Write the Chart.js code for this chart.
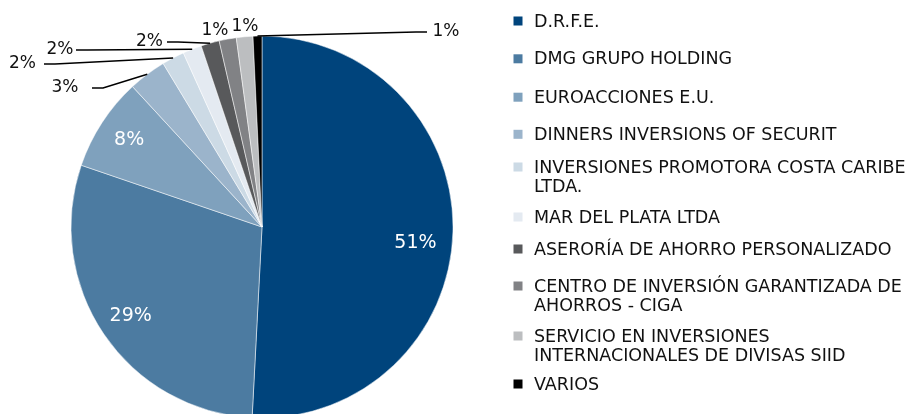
<!DOCTYPE html>
<html>
<head>
<meta charset="utf-8">
<script src="https://cdn.jsdelivr.net/npm/chart.js@4/dist/chart.umd.min.js"></script>
<style>
  html, body { margin: 0; padding: 0; background: #fff; overflow: hidden; }
  #wrap { width: 912px; height: 420px; }
</style>
</head>
<body>
<div id="wrap"><canvas id="chart-pie" width="912" height="420"></canvas></div>
<script>
// categories, values (% of total) and slice colours
var categories = [
  'D.R.F.E.',
  'DMG GRUPO HOLDING',
  'EUROACCIONES E.U.',
  'DINNERS INVERSIONS OF SECURIT',
  'INVERSIONES PROMOTORA COSTA CARIBE LTDA.',
  'MAR DEL PLATA LTDA',
  'ASERORÍA DE AHORRO PERSONALIZADO',
  'CENTRO DE INVERSIÓN GARANTIZADA DE AHORROS - CIGA',
  'SERVICIO EN INVERSIONES INTERNACIONALES DE DIVISAS SIID',
  'VARIOS'
];
var shares = [50.8, 29.4, 7.9, 3.2, 1.9, 1.6, 1.55, 1.45, 1.4, 0.75];
var colors = ['#00447C', '#4C7BA1', '#7FA1BD', '#9BB4CB', '#CCDAE5', '#E4EAF1', '#58595B', '#818285', '#BCBEC0', '#000000'];

var FONT = '"DejaVu Sans", Verdana, sans-serif';

// where the small slice labels sit (text centre, and the x where the leader line stops)
var outside = {
  3: {x: 65, y: 88, lineX: 92},
  4: {x: 22.5, y: 64, lineX: 44},
  5: {x: 60, y: 50, lineX: 76},
  6: {x: 149.5, y: 42, lineX: 167},
  7: {x: 215, y: 31},
  8: {x: 245, y: 27},
  9: {x: 446, y: 32, lineX: 427}
};
// best-fit nudge for the big label
var insideNudge = {0: {dx: -5, dy: 12}};
// legend rows (first line centre)
var legendX = 513.5, legendTextX = 534, legendLineH = 19.8, legendWrapW = 380;
var legendRowY = [21, 58.8, 97.2, 134.3, 167, 217, 249, 286, 336, 384];

function pct(i) {
  var total = shares.reduce(function(a, b) { return a + b; }, 0);
  return Math.round(shares[i] / total * 100) + '%';
}

function wrapText(ctx, text, maxW) {
  var words = text.split(' '), lines = [], cur = '';
  words.forEach(function(w) {
    var t = cur ? cur + ' ' + w : w;
    if (cur && ctx.measureText(t).width > maxW) { lines.push(cur); cur = w; }
    else cur = t;
  });
  if (cur) lines.push(cur);
  return lines;
}

var labelsPlugin = {
  id: 'pieLabels',
  afterDraw: function(chart) {
    var ctx = chart.ctx;
    var arcs = chart.getDatasetMeta(0).data;
    ctx.save();
    ctx.textBaseline = 'middle';
    ctx.textAlign = 'center';

    arcs.forEach(function(arc, i) {
      var mid = (arc.startAngle + arc.endAngle) / 2;
      var r = arc.outerRadius;
      var o = outside[i];
      if (!o) {
        var n = insideNudge[i] || {dx: 0, dy: 0};
        ctx.font = '19px ' + FONT;
        ctx.fillStyle = '#ffffff';
        ctx.fillText(pct(i), arc.x + Math.cos(mid) * r * 0.83 + n.dx, arc.y + Math.sin(mid) * r * 0.83 + n.dy);
        return;
      }
      if (o.lineX !== undefined) {
        var ax = arc.x + Math.cos(mid) * r, ay = arc.y + Math.sin(mid) * r;
        var ex = o.lineX + (o.lineX < ax ? 11 : -11);
        ctx.beginPath();
        ctx.moveTo(ax, ay);
        ctx.lineTo(ex, o.y);
        ctx.lineTo(o.lineX, o.y);
        ctx.strokeStyle = '#000';
        ctx.lineWidth = 1.5;
        ctx.stroke();
      }
      ctx.font = '17px ' + FONT;
      ctx.fillStyle = '#111';
      ctx.fillText(pct(i), o.x, o.y);
    });

    // legend
    ctx.textAlign = 'left';
    ctx.font = '17.5px ' + FONT;
    categories.forEach(function(name, i) {
      var y = legendRowY[i];
      ctx.fillStyle = colors[i];
      ctx.fillRect(legendX, y - 4.5, 9, 9);
      ctx.fillStyle = '#111';
      wrapText(ctx, name, legendWrapW).forEach(function(line, k) {
        ctx.fillText(line, legendTextX, y + 1 + k * legendLineH);
      });
    });
    ctx.restore();
  }
};

new Chart(document.getElementById('chart-pie').getContext('2d'), {
  type: 'pie',
  data: {
    labels: categories,
    datasets: [{
      data: shares,
      backgroundColor: colors,
      borderColor: '#ffffff',
      borderWidth: 0.5
    }]
  },
  options: {
    responsive: false,
    animation: false,
    radius: 191,
    layout: {padding: {left: 71, right: 459, top: 36, bottom: 2}},
    plugins: {legend: {display: false}, tooltip: {enabled: false}}
  },
  plugins: [labelsPlugin]
});
</script>
</body>
</html>
